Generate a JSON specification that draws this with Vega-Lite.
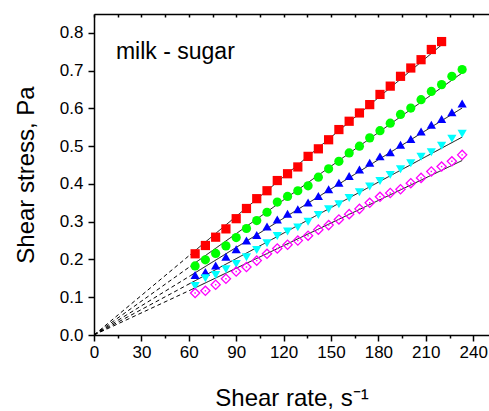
{
  "$schema": "https://vega.github.io/schema/vega-lite/v6.json",
  "width": 395,
  "height": 321,
  "autosize": {"type": "none"},
  "padding": {"left": 94, "top": 14, "right": 0, "bottom": 76},
  "config": {
    "view": {"stroke": null},
    "font": "Liberation Sans",
    "axis": {"grid": false, "domainColor": "black", "domainWidth": 1.5, "tickColor": "black", "tickWidth": 1.5, "labelColor": "black", "titleColor": "black", "labelFont": "Liberation Sans", "titleFont": "Liberation Sans", "titleFontWeight": "normal"}
  },
  "datasets": {
    "pts": [
      {"s":"r","x":64,"y":0.215},{"s":"r","x":70.5,"y":0.237},{"s":"r","x":77,"y":0.259},{"s":"r","x":83.5,"y":0.281},{"s":"r","x":90,"y":0.308},{"s":"r","x":96.5,"y":0.335},{"s":"r","x":103,"y":0.361},{"s":"r","x":109.5,"y":0.382},{"s":"r","x":116,"y":0.409},{"s":"r","x":122.5,"y":0.427},{"s":"r","x":129,"y":0.445},{"s":"r","x":135.5,"y":0.473},{"s":"r","x":142,"y":0.493},{"s":"r","x":148.5,"y":0.517},{"s":"r","x":155,"y":0.544},{"s":"r","x":161.5,"y":0.566},{"s":"r","x":168,"y":0.588},{"s":"r","x":174.5,"y":0.610},{"s":"r","x":181,"y":0.637},{"s":"r","x":187.5,"y":0.659},{"s":"r","x":194,"y":0.685},{"s":"r","x":200.5,"y":0.707},{"s":"r","x":207,"y":0.729},{"s":"r","x":213.5,"y":0.756},{"s":"r","x":220,"y":0.777},
      {"s":"g","x":64,"y":0.183},{"s":"g","x":70.5,"y":0.199},{"s":"g","x":77,"y":0.216},{"s":"g","x":83.5,"y":0.236},{"s":"g","x":90,"y":0.258},{"s":"g","x":96.5,"y":0.282},{"s":"g","x":103,"y":0.303},{"s":"g","x":109.5,"y":0.325},{"s":"g","x":116,"y":0.352},{"s":"g","x":122.5,"y":0.367},{"s":"g","x":129,"y":0.382},{"s":"g","x":135.5,"y":0.395},{"s":"g","x":142,"y":0.418},{"s":"g","x":148.5,"y":0.440},{"s":"g","x":155,"y":0.460},{"s":"g","x":161.5,"y":0.482},{"s":"g","x":168,"y":0.500},{"s":"g","x":174.5,"y":0.522},{"s":"g","x":181,"y":0.541},{"s":"g","x":187.5,"y":0.561},{"s":"g","x":194,"y":0.584},{"s":"g","x":200.5,"y":0.601},{"s":"g","x":207,"y":0.623},{"s":"g","x":213.5,"y":0.645},{"s":"g","x":220,"y":0.663},{"s":"g","x":226.5,"y":0.685},{"s":"g","x":233,"y":0.703},
      {"s":"b","x":64,"y":0.159},{"s":"b","x":70.5,"y":0.167},{"s":"b","x":77,"y":0.184},{"s":"b","x":83.5,"y":0.207},{"s":"b","x":90,"y":0.227},{"s":"b","x":96.5,"y":0.250},{"s":"b","x":103,"y":0.265},{"s":"b","x":109.5,"y":0.287},{"s":"b","x":116,"y":0.306},{"s":"b","x":122.5,"y":0.321},{"s":"b","x":129,"y":0.333},{"s":"b","x":135.5,"y":0.351},{"s":"b","x":142,"y":0.368},{"s":"b","x":148.5,"y":0.386},{"s":"b","x":155,"y":0.403},{"s":"b","x":161.5,"y":0.421},{"s":"b","x":168,"y":0.438},{"s":"b","x":174.5,"y":0.456},{"s":"b","x":181,"y":0.473},{"s":"b","x":187.5,"y":0.484},{"s":"b","x":194,"y":0.504},{"s":"b","x":200.5,"y":0.519},{"s":"b","x":207,"y":0.539},{"s":"b","x":213.5,"y":0.557},{"s":"b","x":220,"y":0.572},{"s":"b","x":226.5,"y":0.590},{"s":"b","x":233,"y":0.613},
      {"s":"c","x":64,"y":0.130},{"s":"c","x":70.5,"y":0.150},{"s":"c","x":77,"y":0.159},{"s":"c","x":83.5,"y":0.174},{"s":"c","x":90,"y":0.188},{"s":"c","x":96.5,"y":0.206},{"s":"c","x":103,"y":0.225},{"s":"c","x":109.5,"y":0.243},{"s":"c","x":116,"y":0.262},{"s":"c","x":122.5,"y":0.274},{"s":"c","x":129,"y":0.285},{"s":"c","x":135.5,"y":0.300},{"s":"c","x":142,"y":0.318},{"s":"c","x":148.5,"y":0.333},{"s":"c","x":155,"y":0.346},{"s":"c","x":161.5,"y":0.363},{"s":"c","x":168,"y":0.378},{"s":"c","x":174.5,"y":0.393},{"s":"c","x":181,"y":0.408},{"s":"c","x":187.5,"y":0.424},{"s":"c","x":194,"y":0.439},{"s":"c","x":200.5,"y":0.455},{"s":"c","x":207,"y":0.472},{"s":"c","x":213.5,"y":0.484},{"s":"c","x":220,"y":0.501},{"s":"c","x":226.5,"y":0.520},{"s":"c","x":233,"y":0.533},
      {"s":"m","x":64,"y":0.111},{"s":"m","x":70.5,"y":0.117},{"s":"m","x":77,"y":0.133},{"s":"m","x":83.5,"y":0.149},{"s":"m","x":90,"y":0.168},{"s":"m","x":96.5,"y":0.180},{"s":"m","x":103,"y":0.197},{"s":"m","x":109.5,"y":0.215},{"s":"m","x":116,"y":0.229},{"s":"m","x":122.5,"y":0.239},{"s":"m","x":129,"y":0.250},{"s":"m","x":135.5,"y":0.263},{"s":"m","x":142,"y":0.279},{"s":"m","x":148.5,"y":0.291},{"s":"m","x":155,"y":0.306},{"s":"m","x":161.5,"y":0.320},{"s":"m","x":168,"y":0.334},{"s":"m","x":174.5,"y":0.350},{"s":"m","x":181,"y":0.366},{"s":"m","x":187.5,"y":0.376},{"s":"m","x":194,"y":0.386},{"s":"m","x":200.5,"y":0.402},{"s":"m","x":207,"y":0.416},{"s":"m","x":213.5,"y":0.433},{"s":"m","x":220,"y":0.446},{"s":"m","x":226.5,"y":0.460},{"s":"m","x":233,"y":0.477}
    ],
    "fits": [
      {"s":"r","seg":"dash","x":0,"y":0},{"s":"r","seg":"dash","x":61,"y":0.213},{"s":"r","seg":"solid","x":61,"y":0.213},{"s":"r","seg":"solid","x":220.5,"y":0.770},
      {"s":"g","seg":"dash","x":0,"y":0},{"s":"g","seg":"dash","x":61,"y":0.182},{"s":"g","seg":"solid","x":61,"y":0.182},{"s":"g","seg":"solid","x":233,"y":0.694},
      {"s":"b","seg":"dash","x":0,"y":0},{"s":"b","seg":"dash","x":61,"y":0.157},{"s":"b","seg":"solid","x":61,"y":0.157},{"s":"b","seg":"solid","x":233,"y":0.601},
      {"s":"c","seg":"dash","x":0,"y":0},{"s":"c","seg":"dash","x":61,"y":0.137},{"s":"c","seg":"solid","x":61,"y":0.137},{"s":"c","seg":"solid","x":233,"y":0.524},
      {"s":"m","seg":"dash","x":0,"y":0},{"s":"m","seg":"dash","x":61,"y":0.119},{"s":"m","seg":"solid","x":61,"y":0.119},{"s":"m","seg":"solid","x":233,"y":0.462}
    ],
    "label": [{"x":13.9,"y":0.731,"text":"milk - sugar"}]
  },
  "layer": [
    {
      "data": {"name": "fits"},
      "mark": {"type": "line", "color": "black", "strokeWidth": 1},
      "encoding": {
        "x": {"field": "x", "type": "quantitative", "scale": {"domain": [0, 250], "nice": false},
          "axis": {"orient": "bottom", "values": [0,15,30,45,60,75,90,105,120,135,150,165,180,195,210,225,240],
            "labelExpr": "datum.value % 30 == 0 ? datum.label : ''",
            "tickSize": {"condition": {"test": "datum.value % 30 == 0", "value": 6}, "value": 3},
            "labelFontSize": 17, "labelPadding": 3, "labelFlush": false, "labelOverlap": false,
            "title": "Shear rate, s⁻¹", "titleFontSize": 24, "titlePadding": 26}},
        "y": {"field": "y", "type": "quantitative", "scale": {"domain": [0, 0.85], "nice": false},
          "axis": {"orient": "left", "values": [0,0.05,0.1,0.15,0.2,0.25,0.3,0.35,0.4,0.45,0.5,0.55,0.6,0.65,0.7,0.75,0.8],
            "format": ".1f",
            "labelExpr": "round(datum.value*100) % 10 == 0 ? datum.label : ''",
            "tickSize": {"condition": {"test": "round(datum.value*100) % 10 == 0", "value": 6}, "value": 3},
            "labelFontSize": 17, "labelPadding": 5, "labelFlush": false, "labelOverlap": false,
            "title": "Shear stress, Pa", "titleFontSize": 24, "titlePadding": 21}},
        "detail": {"field": "s"},
        "strokeDash": {"field": "seg", "type": "nominal", "scale": {"domain": ["dash", "solid"], "range": [[4, 3], [1, 0]]}, "legend": null}
      }
    },
    {
      "data": {"name": "pts"},
      "transform": [{"filter": "datum.s != 'm'"}],
      "mark": {"type": "point", "filled": true, "opacity": 1},
      "encoding": {
        "x": {"field": "x", "type": "quantitative",
          "axis": {"orient": "top", "values": [0,15,30,45,60,75,90,105,120,135,150,165,180,195,210,225,240], "labels": false, "tickSize": -3, "title": null}},
        "y": {"field": "y", "type": "quantitative"},
        "color": {"field": "s", "type": "nominal", "scale": {"domain": ["r","g","b","c"], "range": ["#FF0000","#00FF00","#0000FF","#00FFFF"]}, "legend": null},
        "shape": {"field": "s", "type": "nominal", "scale": {"domain": ["r","g","b","c"], "range": ["square","circle","triangle-up","triangle-down"]}, "legend": null},
        "size": {"value": 85}
      }
    },
    {
      "data": {"name": "pts"},
      "transform": [{"filter": "datum.s == 'm'"}],
      "mark": {"type": "point", "shape": "diamond", "filled": false, "color": "#FF00FF", "strokeWidth": 1.3, "opacity": 1, "size": 85},
      "encoding": {
        "x": {"field": "x", "type": "quantitative", "axis": null},
        "y": {"field": "y", "type": "quantitative"}
      }
    },
    {
      "data": {"name": "pts"},
      "transform": [{"filter": "datum.s == 'm'"}],
      "mark": {"type": "point", "shape": "square", "filled": true, "color": "#FF00FF", "opacity": 1, "size": 2},
      "encoding": {
        "x": {"field": "x", "type": "quantitative", "axis": null},
        "y": {"field": "y", "type": "quantitative"}
      }
    },
    {
      "data": {"name": "label"},
      "mark": {"type": "text", "align": "left", "baseline": "alphabetic", "fontSize": 23, "font": "Liberation Sans", "color": "black"},
      "encoding": {
        "x": {"field": "x", "type": "quantitative", "axis": null},
        "y": {"field": "y", "type": "quantitative"},
        "text": {"field": "text"}
      }
    }
  ],
  "resolve": {"axis": {"x": "independent"}}
}
